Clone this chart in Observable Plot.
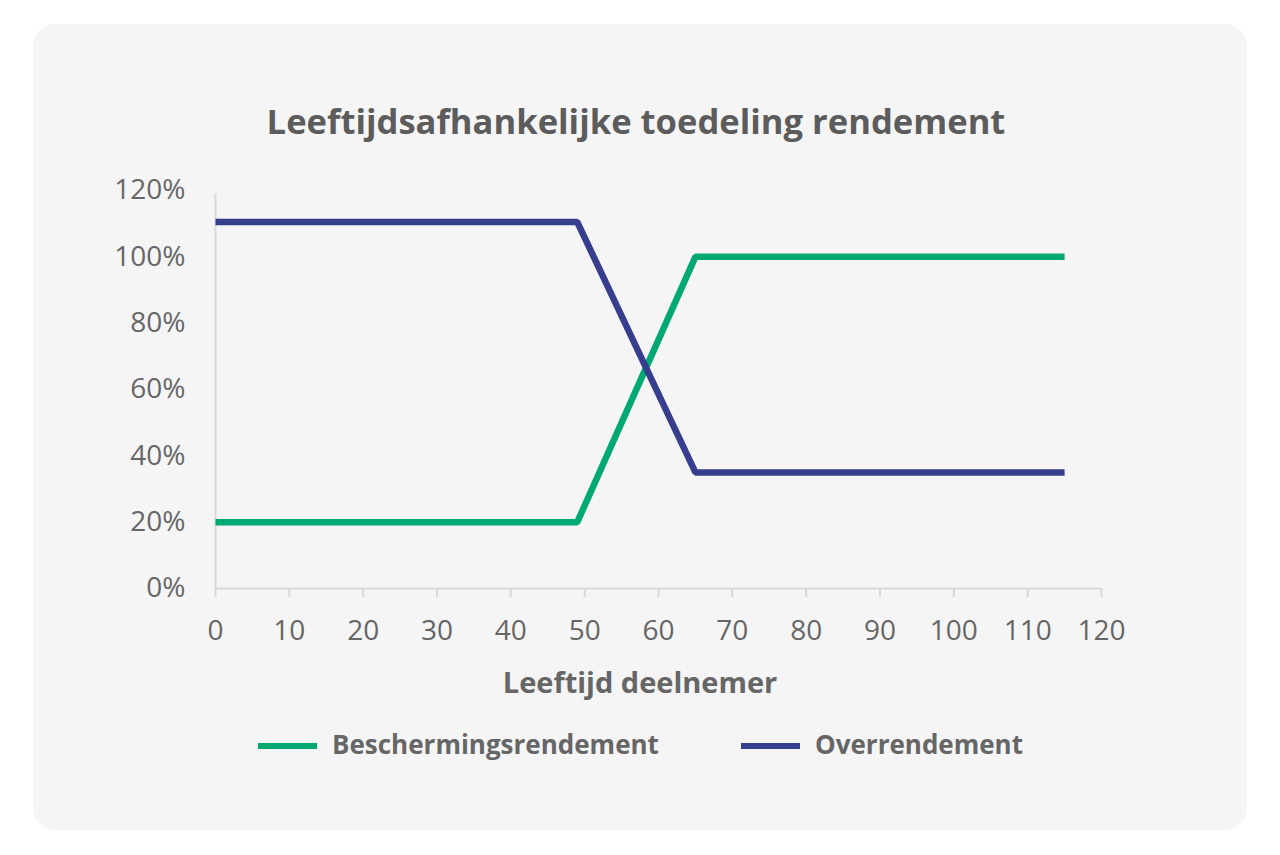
<!DOCTYPE html>
<html><head><meta charset="utf-8">
<script src="https://cdn.jsdelivr.net/npm/d3@7"></script>
<script src="https://cdn.jsdelivr.net/npm/@observablehq/plot@0.6"></script>
<style>
html,body{margin:0;padding:0;background:#fff;}
body{width:1280px;height:855px;position:relative;overflow:hidden;font-family:"Open Sans",sans-serif;}
#card{position:absolute;left:33px;top:24px;width:1214px;height:806px;background:#f5f5f5;border-radius:22px;}
#chart{position:absolute;left:0;top:0;}
#title{position:absolute;left:-4px;width:1280px;top:99px;text-align:center;font-weight:700;font-size:34.6px;color:#5c5c5c;line-height:44px;white-space:nowrap;}
#xlabel{position:absolute;left:0;width:1280px;top:662px;text-align:center;font-weight:700;font-size:29px;color:#666;line-height:40px;white-space:nowrap;}
#legend{position:absolute;top:726px;left:0;width:1280px;height:40px;}
.item{position:absolute;top:0;height:36px;font-weight:700;font-size:26px;color:#666;line-height:36px;white-space:nowrap;}
.swatch{position:absolute;left:0;top:17px;width:59px;height:6px;}
.lbl{position:absolute;left:74px;top:0;}
</style>
</head><body>
<div id="card"></div>
<div id="chart"></div>
<div id="title">Leeftijdsafhankelijke toedeling rendement</div>
<div id="xlabel">Leeftijd deelnemer</div>
<div id="legend"></div>
<script>
const ages = [0, 49, 65, 115];
const bescherming = [20, 20, 100, 100];
const overrendement = [110.5, 110.5, 35, 35];
const seriesNames = ["Beschermingsrendement", "Overrendement"];
const seriesColors = ["#00a974", "#383e8e"];
const xTicks = [0, 10, 20, 30, 40, 50, 60, 70, 80, 90, 100, 110, 120];
const yTicks = [0, 20, 40, 60, 80, 100, 120];

const rows = [];
ages.forEach((a, i) => rows.push({age: a, value: bescherming[i], series: seriesNames[0]}));
ages.forEach((a, i) => rows.push({age: a, value: overrendement[i], series: seriesNames[1]}));

const chart = Plot.plot({
  width: 1280,
  height: 720,
  marginTop: 190,
  marginBottom: 132,
  marginLeft: 215,
  marginRight: 179,
  style: {background: "transparent", fontFamily: "Open Sans", fontSize: "28px", color: "#666", overflow: "visible"},
  x: {domain: [0, 120]},
  y: {domain: [0, 120]},
  color: {domain: seriesNames, range: seriesColors},
  marks: [
    Plot.ruleX([0], {y1: 0, y2: 119, stroke: "#d9d9d9", strokeWidth: 2}),
    Plot.ruleY([0], {x1: 0, x2: 120, stroke: "#d9d9d9", strokeWidth: 2}),
    Plot.axisX({ticks: xTicks, tickSize: 9, tickPadding: 23, stroke: "#d9d9d9", strokeWidth: 2, strokeOpacity: 1, fill: "#666", label: null}),
    Plot.axisY({ticks: yTicks, tickSize: 0, tickPadding: 30, tickFormat: d => d + "%", fill: "#666", label: null}),
    Plot.line(rows, {x: "age", y: "value", z: "series", stroke: "series", strokeWidth: 6.5, strokeLinejoin: "miter", strokeLinecap: "butt"})
  ]
});
document.getElementById("chart").appendChild(chart);

const legend = document.getElementById("legend");
const lefts = [258, 741];
seriesNames.forEach((n, i) => {
  const it = document.createElement("div");
  it.className = "item";
  it.style.left = lefts[i] + "px";
  const sw = document.createElement("span");
  sw.className = "swatch";
  sw.style.background = seriesColors[i];
  it.appendChild(sw);
  const t = document.createElement("span");
  t.className = "lbl";
  t.textContent = n;
  it.appendChild(t);
  legend.appendChild(it);
});
</script>
</body></html>
